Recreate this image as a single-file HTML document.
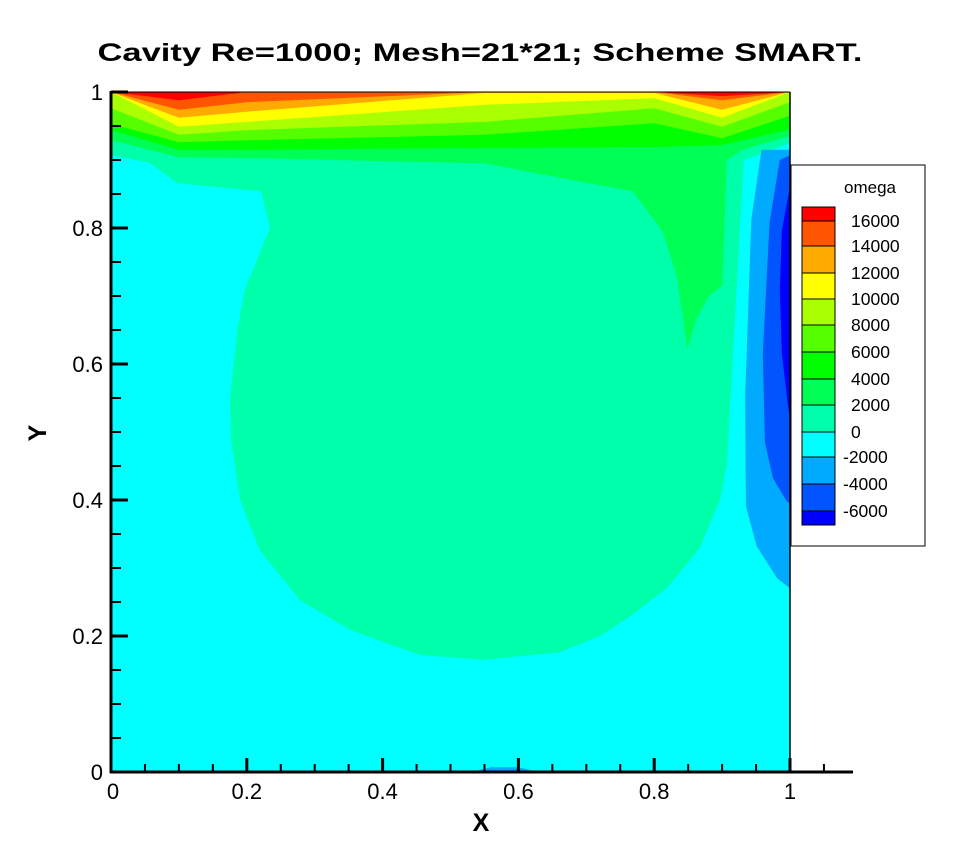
<!DOCTYPE html>
<html><head><meta charset="utf-8"><style>
html,body{margin:0;padding:0;background:#fff;}
svg{display:block;font-family:"Liberation Sans",Arial,sans-serif;}
</style></head><body>
<svg id="chart" width="959" height="849" viewBox="0 0 959 849">
<defs><clipPath id="plotclip"><rect x="111" y="92" width="679" height="680"/></clipPath></defs>
<text x="480" y="61" text-anchor="middle" font-size="25" font-weight="bold" textLength="765" lengthAdjust="spacingAndGlyphs">Cavity Re=1000; Mesh=21*21; Scheme SMART.</text>
<g id="field" clip-path="url(#plotclip)"></g>
<g id="axes"></g>
<text x="481" y="831" text-anchor="middle" font-size="25" font-weight="bold">X</text>
<text x="0" y="0" transform="translate(46,433) rotate(-90)" text-anchor="middle" font-size="25" font-weight="bold">Y</text>
<g id="legend"></g>
</svg>
<script>
// ---- data ----
const legendLevels = [16000,14000,12000,10000,8000,6000,4000,2000,0,-2000,-4000,-6000];
const bandColors = ["#ff0000","#ff5500","#ffaa00","#ffff00","#aaff00","#55ff00","#00ff00","#00ff55","#00ffaa","#00ffff","#00aaff","#0055ff","#0000ff"];
const colX = [0,0.1,0.2,0.55,0.8,0.9,1];
const lev16000 = [1,0.988,1,1,1,0.994,1];
const lev14000 = [1,0.974,0.985,1,1,0.988,1];
const lev12000 = [1,0.962,0.971,0.9985,0.9985,0.974,1];
const lev10000 = [1,0.949,0.956,0.981,0.991,0.962,1];
const lev8000 = [0.976,0.937,0.944,0.956,0.976,0.949,0.985];
const lev6000 = [0.953,0.926,0.929,0.937,0.954,0.932,0.965];
const lev4000 = [0.944,0.915,0.915,0.918,0.919,0.922,0.945];
const lev2000X = [0,0.1,0.2,0.55,0.72,0.768,0.812,0.833,0.849,0.862,0.881,0.9,0.907,0.93,1];
const lev2000Y = [0.929,0.904,0.903,0.895,0.863,0.854,0.796,0.731,0.621,0.666,0.701,0.715,0.9,0.915,0.935];
const lev0X = [0,0.057,0.097,0.221,0.234,0.197,0.186,0.175,0.177,0.19,0.219,0.278,0.352,0.455,0.549,0.661,0.72,0.769,0.819,0.867,0.897,0.907,0.916,0.932,0.96,1];
const lev0Y = [0.907,0.896,0.866,0.854,0.8,0.709,0.65,0.547,0.488,0.4,0.326,0.253,0.209,0.172,0.165,0.176,0.2,0.232,0.271,0.329,0.4,0.453,0.615,0.9,0.91,0.925];
const levM2000X = [1,0.958,0.943,0.934,0.935,0.951,0.981,1];
const levM2000Y = [0.915,0.915,0.812,0.553,0.391,0.332,0.285,0.27];
const levM4000X = [1,0.985,0.97,0.96,0.963,0.975,0.994,1];
const levM4000Y = [0.907,0.9,0.809,0.615,0.485,0.432,0.4,0.394];
const levM6000X = [1,0.996,0.988,0.985,0.988,0.997,1];
const levM6000Y = [0.86,0.84,0.796,0.71,0.615,0.537,0.52];
const bottomPatchX = [0.53,0.56,0.6,0.63];
const bottomPatchY = [0,0.007,0.007,0];
const xTicks = [0,0.2,0.4,0.6,0.8,1];
const xTickLabels = ["0","0.2","0.4","0.6","0.8","1"];
const yTicks = [0,0.2,0.4,0.6,0.8,1];
const yTickLabels = ["0","0.2","0.4","0.6","0.8","1"];

// ---- scales ----
const X0=111, X1=790, Y0=772, Y1=92;
function sx(v){return X0+(X1-X0)*v;}
function sy(v){return Y0-(Y0-Y1)*v;}
const NS="http://www.w3.org/2000/svg";
const field=document.getElementById('field');
const axes=document.getElementById('axes');
const legend=document.getElementById('legend');

function poly(parent, xs, ys, color, name){
  const p=document.createElementNS(NS,'polygon');
  p.setAttribute('points', xs.map((x,i)=>sx(x).toFixed(1)+','+sy(ys[i]).toFixed(1)).join(' '));
  p.setAttribute('fill', color);
  
  
  parent.appendChild(p);
}
function above(xs, ys, color, name){
  poly(field, xs.concat([1,0]), ys.concat([1,1]), color, name);
}
const bg=document.createElementNS(NS,'rect');
bg.setAttribute('x',X0);bg.setAttribute('y',Y1);bg.setAttribute('width',X1-X0);bg.setAttribute('height',Y0-Y1);
bg.setAttribute('fill',bandColors[9]);


field.appendChild(bg);
above(lev0X, lev0Y, bandColors[8], 'band-0-2000');
above(lev2000X, lev2000Y, bandColors[7], 'band-2000-4000');
above(colX, lev4000, bandColors[6], 'band-4000-6000');
above(colX, lev6000, bandColors[5], 'band-6000-8000');
above(colX, lev8000, bandColors[4], 'band-8000-10000');
above(colX, lev10000, bandColors[3], 'band-10000-12000');
above(colX, lev12000, bandColors[2], 'band-12000-14000');
above(colX, lev14000, bandColors[1], 'band-14000-16000');
above(colX, lev16000, bandColors[0], 'band-above-16000');
poly(field, levM2000X, levM2000Y, bandColors[10], 'band-minus4000-minus2000');
poly(field, levM4000X, levM4000Y, bandColors[11], 'band-minus6000-minus4000');
poly(field, levM6000X, levM6000Y, bandColors[12], 'band-below-minus6000');
poly(field, bottomPatchX, bottomPatchY, bandColors[10], 'bottom-negative-patch');

function line(parent,x1,y1,x2,y2,w,name){
  const l=document.createElementNS(NS,'line');
  l.setAttribute('x1',x1);l.setAttribute('y1',y1);l.setAttribute('x2',x2);l.setAttribute('y2',y2);
  l.setAttribute('stroke','#000');l.setAttribute('stroke-width',w);
  
  
  parent.appendChild(l);
}
function text(parent,x,y,s,anchor,size,name){
  const t=document.createElementNS(NS,'text');
  t.setAttribute('x',x);t.setAttribute('y',y);t.setAttribute('text-anchor',anchor);t.setAttribute('font-size',size);
  t.textContent=s;
  
  
  parent.appendChild(t);
}
line(axes,X0,Y1,X1,Y1,1,'plot-top-border');
line(axes,X1,Y1,X1,Y0,1.5,'plot-right-border');
line(axes,X0,Y1-1,X0,Y0+1,3,'y-axis-line');
line(axes,X0-1,Y0,853,Y0,3,'x-axis-line');
for(let k=0;k<=21;k++){
  const v=k*0.05; const major=(k%4===0);
  line(axes,sx(v),Y0,sx(v),Y0-(major?14:8),major?3:2,major?'x-major-tick':'x-minor-tick');
}
for(let k=0;k<=20;k++){
  const v=k*0.05; const major=(k%4===0);
  line(axes,X0,sy(v),X0+(major?17:10),sy(v),major?3:2,major?'y-major-tick':'y-minor-tick');
}
xTicks.forEach((v,i)=>text(axes,sx(v)+(i===0?2:0),799,xTickLabels[i],'middle',22,'x-tick-label'));
yTicks.forEach((v,i)=>text(axes,103,sy(v)+8,yTickLabels[i],'end',22,'y-tick-label'));

const lb=document.createElementNS(NS,'rect');
lb.setAttribute('x',791);lb.setAttribute('y',165);lb.setAttribute('width',134);lb.setAttribute('height',381);
lb.setAttribute('fill','#fff');lb.setAttribute('stroke','#000');lb.setAttribute('stroke-width',1);


legend.appendChild(lb);
text(legend,870,193,'omega','middle',17,'legend-title');
const edges=[207,221,246,273,299,325,352,379,405,432,457,484,511,525];
bandColors.forEach((c,i)=>{
  const r=document.createElementNS(NS,'rect');
  r.setAttribute('x',802);r.setAttribute('y',edges[i]);r.setAttribute('width',33);r.setAttribute('height',edges[i+1]-edges[i]);
  r.setAttribute('fill',c);r.setAttribute('stroke','#000');r.setAttribute('stroke-width',1);
  
  
  legend.appendChild(r);
});
legendLevels.forEach((v,i)=>{
  text(legend,v<0?843:851,edges[i+1]+6,String(v),'start',17.5,'legend-entry');
});
</script>
</body></html>
